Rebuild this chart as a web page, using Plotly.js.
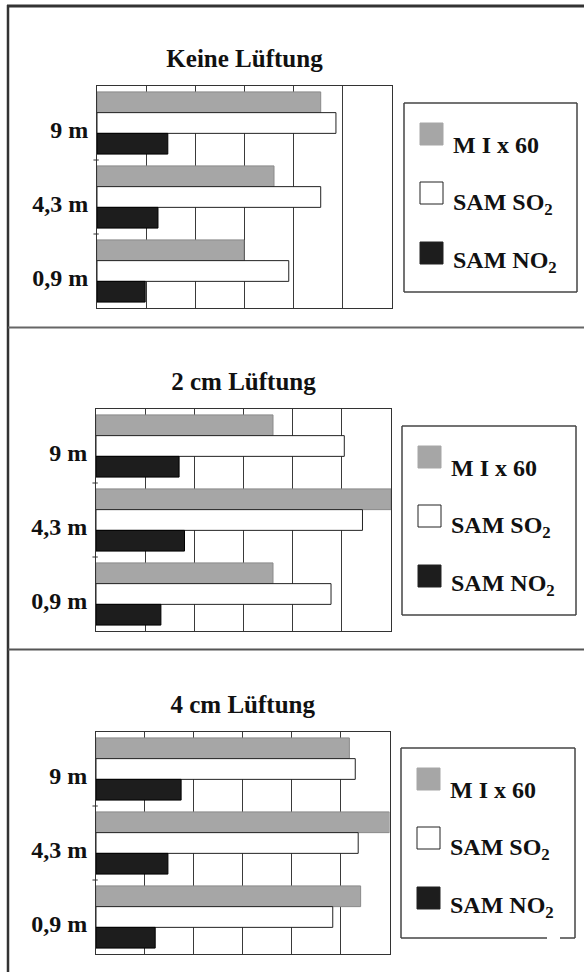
<!DOCTYPE html>
<html><head><meta charset="utf-8">
<script src="https://cdn.plot.ly/plotly-3.0.1.min.js"></script>
<style>html,body{margin:0;padding:0;background:#fff}#chart{width:584px;height:972px}</style>
</head><body><div id="chart"></div>
<script>
// ---- data (bar lengths in grid units, axis 0..6, no tick labels in original) ----
const categories = ['9 m', '4,3 m', '0,9 m'];
const seriesNames = ['M I x 60', 'SAM SO<sub>2</sub>', 'SAM NO<sub>2</sub>'];
const panelTitles = ['Keine Lüftung', '2 cm Lüftung', '4 cm Lüftung'];
const keineMI  = [4.55, 3.60, 2.99];
const keineSO2 = [4.86, 4.55, 3.90];
const keineNO2 = [1.44, 1.24, 0.98];
const cm2MI    = [3.60, 6.00, 3.60];
const cm2SO2   = [5.05, 5.42, 4.78];
const cm2NO2   = [1.69, 1.80, 1.32];
const cm4MI    = [5.18, 6.00, 5.41];
const cm4SO2   = [5.30, 5.36, 4.84];
const cm4NO2   = [1.74, 1.47, 1.21];

const panelData = [[keineMI, keineSO2, keineNO2], [cm2MI, cm2SO2, cm2NO2], [cm4MI, cm4SO2, cm4NO2]];

// ---- styling / geometry ----
const W = 584, H = 972;
const px = x => x / W, py = y => 1 - y / H;
const FONT = 'Liberation Serif, Times New Roman, serif';
const fills = ['#a6a6a6', '#ffffff', '#1d1d1d'];
const lines = ['#8a8a8a', '#222222', '#000000'];
const geo = [
  {x0: 97, x1: 392, y0: 86, y1: 308, lx0: 404, lx1: 577, ly0: 103, ly1: 292, gap: null},
  {x0: 96, x1: 391, y0: 409, y1: 631, lx0: 402, lx1: 576, ly0: 426, ly1: 615, gap: null},
  {x0: 96, x1: 389.5, y0: 732, y1: 954, lx0: 401, lx1: 575, ly0: 748, ly1: 938, gap: [547, 560]}
];

const traces = [];
const layout = {
  width: W, height: H, margin: {l: 0, r: 0, t: 0, b: 0},
  paper_bgcolor: '#fff', plot_bgcolor: '#fff',
  showlegend: false, barmode: 'group', bargap: 0.16, bargroupgap: 0,
  font: {family: FONT, color: '#111', size: 24},
  shapes: [], annotations: []
};

geo.forEach((g, i) => {
  const s = i === 0 ? '' : String(i + 1);
  panelData[i].forEach((vals, k) => {
    traces.push({
      type: 'bar', orientation: 'h', y: categories, x: vals,
      name: seriesNames[k], xaxis: 'x' + s, yaxis: 'y' + s,
      marker: {color: fills[k], line: {color: lines[k], width: 1}},
      hoverinfo: 'skip'
    });
  });
  layout['xaxis' + s] = {
    domain: [px(g.x0), px(g.x1)], anchor: 'y' + s, side: 'top', range: [0, 6], dtick: 1, tick0: 0,
    showgrid: true, gridcolor: '#3a3a3a', gridwidth: 1, zeroline: false,
    showticklabels: false, ticks: '', showline: true, mirror: true, linecolor: '#333', linewidth: 1,
    title: {text: '<b>' + panelTitles[i] + '</b>', standoff: 10, font: {family: FONT, size: 25, color: '#111'}},
    fixedrange: true
  };
  layout['yaxis' + s] = {
    domain: [py(g.y1), py(g.y0)], anchor: 'x' + s, type: 'category',
    categoryorder: 'array', categoryarray: categories, autorange: 'reversed',
    showgrid: false, zeroline: false, showline: true, mirror: true, linecolor: '#333', linewidth: 1,
    ticks: '',
    tickfont: {family: FONT, size: 24, color: '#111', weight: 'bold'},
    ticklabelshift: -7, ticklabelstandoff: 3, fixedrange: true
  };
  // small boundary tick marks between categories (on the category axis scale)
  [0.5, 1.5].forEach(b => {
    layout.shapes.push({
      type: 'line', xref: 'x' + s + ' domain', yref: 'y' + s,
      x0: -0.012, x1: 0.006, y0: b, y1: b, line: {color: '#333', width: 1}
    });
  });
  // legend box
  const lb = {type: 'line', xref: 'paper', yref: 'paper', line: {color: '#444', width: 1.5}};
  layout.shapes.push(Object.assign({}, lb, {x0: px(g.lx0), x1: px(g.lx1), y0: py(g.ly0), y1: py(g.ly0)}));
  layout.shapes.push(Object.assign({}, lb, {x0: px(g.lx0), x1: px(g.lx0), y0: py(g.ly0), y1: py(g.ly1)}));
  layout.shapes.push(Object.assign({}, lb, {x0: px(g.lx1), x1: px(g.lx1), y0: py(g.ly0), y1: py(g.ly1)}));
  if (g.gap) {
    layout.shapes.push(Object.assign({}, lb, {x0: px(g.lx0), x1: px(g.gap[0]), y0: py(g.ly1), y1: py(g.ly1)}));
    layout.shapes.push(Object.assign({}, lb, {x0: px(g.gap[1]), x1: px(g.lx1), y0: py(g.ly1), y1: py(g.ly1)}));
  } else {
    layout.shapes.push(Object.assign({}, lb, {x0: px(g.lx0), x1: px(g.lx1), y0: py(g.ly1), y1: py(g.ly1)}));
  }
  // legend entries
  const swTop = [20, 79, 139], base = [50, 109, 167];
  seriesNames.forEach((nm, k) => {
    const t = g.ly0 + swTop[k];
    layout.shapes.push({
      type: 'rect', xref: 'paper', yref: 'paper',
      x0: px(g.lx0 + 16), x1: px(g.lx0 + 39), y0: py(t), y1: py(t + 22),
      fillcolor: fills[k], line: {color: k === 0 ? fills[0] : '#222', width: 1}
    });
    layout.annotations.push({
      text: '<b>' + nm + '</b>', xref: 'paper', yref: 'paper',
      x: px(g.lx0 + 47), y: py(g.ly0 + base[k] - 8),
      xanchor: 'left', yanchor: 'middle', showarrow: false,
      font: {family: FONT, size: 24, color: '#111'}
    });
  });
});

// page frame
const fr = {type: 'line', xref: 'paper', yref: 'paper'};
layout.shapes.push(Object.assign({}, fr, {x0: px(8), x1: px(8), y0: py(5), y1: py(972), line: {color: '#333', width: 2.5}}));
layout.shapes.push(Object.assign({}, fr, {x0: px(7), x1: px(584), y0: py(6), y1: py(6), line: {color: '#333', width: 3}}));
layout.shapes.push(Object.assign({}, fr, {x0: px(8), x1: px(584), y0: py(327.5), y1: py(327.5), line: {color: '#666', width: 2}}));
layout.shapes.push(Object.assign({}, fr, {x0: px(8), x1: px(584), y0: py(649.5), y1: py(649.5), line: {color: '#555', width: 2}}));

Plotly.newPlot('chart', traces, layout, {staticPlot: true, displayModeBar: false});
</script>
</body></html>
